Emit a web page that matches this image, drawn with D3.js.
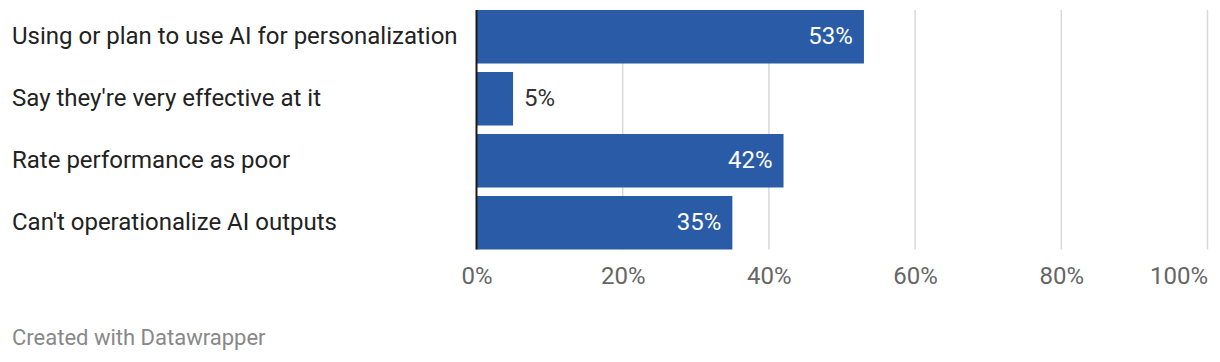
<!DOCTYPE html>
<html>
<head>
<meta charset="utf-8">
<script src="https://cdn.jsdelivr.net/npm/d3@7"></script>
<style>
	body { margin: 0; background: #fff; }
	text { font-family: Roboto, "Noto Sans", sans-serif; }
</style>
</head>
<body>
<div id="chart"></div>
<script>
// data
var categories = [
	"Using or plan to use AI for personalization",
	"Say they're very effective at it",
	"Rate performance as poor",
	"Can't operationalize AI outputs"
];
var values = [53, 5, 42, 35];
var tickValues = [0, 20, 40, 60, 80, 100];

var width = 1220,
	height = 362;

var svg = d3.select("#chart")
	.append("svg")
	.attr("width", width)
	.attr("height", height);

// X scale
var x = d3.scaleLinear()
	.domain([0, 100])
	.range([476.5, 1207.5]);

// Y scale
var y = d3.scaleBand()
	.domain(categories)
	.range([10, 249.5])
	.paddingInner(0.137)
	.paddingOuter(0);

// grid lines
svg.append("g")
	.selectAll("line")
	.data(tickValues.slice(1))
	.enter()
	.append("line")
	.attr("x1", function(d) { return x(d); })
	.attr("x2", function(d) { return x(d); })
	.attr("y1", 10)
	.attr("y2", 249.5)
	.attr("stroke", "#d9d9d9")
	.attr("stroke-width", 1.5);

// x axis tick labels
var xAxis = svg.append("g")
	.attr("transform", "translate(0,284)")
	.call(d3.axisBottom(x)
		.tickValues(tickValues)
		.tickSize(0)
		.tickPadding(0)
		.tickFormat(function(d) { return d + "%"; }));
xAxis.select(".domain").remove();
xAxis.selectAll("text")
	.attr("y", 0)
	.attr("dy", 0)
	.style("font-family", "Roboto, sans-serif")
	.style("font-size", "24px")
	.attr("fill", "#666")
	.attr("text-anchor", function(d) { return d === 100 ? "end" : "middle"; });

// bars
svg.append("g")
	.selectAll("rect")
	.data(values)
	.enter()
	.append("rect")
	.attr("x", x(0))
	.attr("y", function(d, i) { return y(categories[i]); })
	.attr("width", function(d) { return x(d) - x(0); })
	.attr("height", y.bandwidth())
	.attr("fill", "#295ba7");

// zero line
svg.append("line")
	.attr("x1", x(0))
	.attr("x2", x(0))
	.attr("y1", 10)
	.attr("y2", 249.5)
	.attr("stroke", "#1a1a1a")
	.attr("stroke-width", 2);

// category labels
svg.append("g")
	.selectAll("text")
	.data(categories)
	.enter()
	.append("text")
	.attr("x", 12)
	.attr("y", function(d) { return y(d) + y.bandwidth() / 2 + 7; })
	.style("font-size", "24px")
	.attr("fill", "#222")
	.text(function(d) { return d; });

// value labels
svg.append("g")
	.selectAll("text")
	.data(values)
	.enter()
	.append("text")
	.attr("x", function(d) { return d < 10 ? x(d) + 11 : x(d) - 11; })
	.attr("y", function(d, i) { return y(categories[i]) + y.bandwidth() / 2 + 7.5; })
	.attr("text-anchor", function(d) { return d < 10 ? "start" : "end"; })
	.style("font-size", "24px")
	.attr("fill", function(d) { return d < 10 ? "#333" : "#fff"; })
	.text(function(d) { return d + "%"; });

// footer
svg.append("text")
	.attr("x", 12)
	.attr("y", 345)
	.style("font-size", "22px")
	.attr("fill", "#888")
	.text("Created with Datawrapper");
</script>
</body>
</html>
